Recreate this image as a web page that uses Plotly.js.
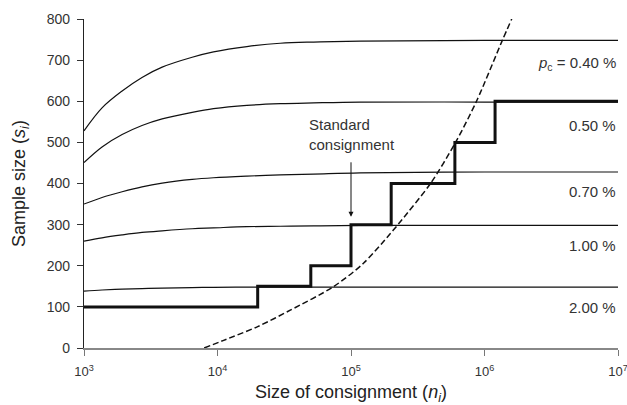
<!DOCTYPE html>
<html>
<head>
<meta charset="utf-8">
<script src="https://cdn.plot.ly/plotly-3.0.1.min.js"></script>
<style>
html,body{margin:0;padding:0;background:#fff;}
#chart{width:627px;height:405px;}
</style>
</head>
<body>
<div id="chart"></div>
<script>
// Consignment sizes (n) at which the curves were read
const nCurve = [1000, 1365, 1930, 2720, 3850, 6460, 9330, 16600, 29500, 52500, 117000, 1000000, 10000000];
// Sample sizes for each p_c curve
const s040 = [528, 584, 625, 658, 683, 707, 720, 733, 741, 744, 746, 748, 748];
const s050 = [451, 489, 519, 541, 557, 573, 582, 590, 594, 596, 598, 598, 598];
const s070 = [350, 366, 380, 392, 401, 410, 414, 418, 421, 423, 426, 428, 428];
const s100 = [260, 268, 275, 281, 285, 290, 292, 295, 296, 297, 298, 298, 298];
const s200 = [138.5, 141, 143, 144.5, 145.5, 147, 147.5, 148, 148, 148, 148, 148, 148];

// Standard consignment step function
const nStep = [1000, 20000, 50000, 100000, 200000, 600000, 1200000, 10000000];
const sStep = [100, 150, 200, 300, 400, 500, 600, 600];

// Dashed curve
const nDash = [7940, 11000, 20000, 35100, 73800, 124000, 198000, 234000, 394000, 607000, 871000, 1360000, 1600000];
const sDash = [0, 18, 52, 92, 149, 206, 279, 307, 400, 500, 600, 748, 800];

const xTickVals = [1e3, 1e4, 1e5, 1e6, 1e7];
const xTickText = ['10<sup>3</sup>', '10<sup>4</sup>', '10<sup>5</sup>', '10<sup>6</sup>', '10<sup>7</sup>'];
const yTickVals = [0, 100, 200, 300, 400, 500, 600, 700, 800];

const curveLabels = ['<i>p</i><sub>c</sub> = 0.40 %', '0.50 %', '0.70 %', '1.00 %', '2.00 %'];
const curveLabelY = [692, 540, 380, 250, 99];

const curveSeries = [s040, s050, s070, s100, s200];
const traces = curveSeries.map(s => ({
  x: nCurve, y: s, mode: 'lines',
  line: {color: '#111', width: 1.2, shape: 'spline', smoothing: 1}
}));
traces.push({x: nDash, y: sDash, mode: 'lines', line: {color: '#111', width: 1.5, dash: '6px,3px', shape: 'spline', smoothing: 0.8}});
traces.push({x: nStep, y: sStep, mode: 'lines', line: {color: '#111', width: 3, shape: 'hv'}});

const FONT = 'Liberation Sans, Arial, Helvetica, sans-serif';
const annotations = curveLabels.map((t, i) => ({
  xref: 'paper', yref: 'y', x: 1, y: curveLabelY[i], xanchor: 'right', yanchor: 'middle',
  text: t, showarrow: false, font: {family: FONT, size: 15, color: '#333'}
}));
annotations.push({
  xref: 'paper', yref: 'y', x: 0.418, y: 518, xanchor: 'left', yanchor: 'middle',
  text: 'Standard<br>consignment', align: 'left', showarrow: false,
  font: {family: FONT, size: 15, color: '#333'}
});
annotations.push({
  xref: 'x', yref: 'y', x: 5, y: 319, text: '', showarrow: true,
  ax: 0, ay: -56, arrowhead: 2, arrowsize: 1, arrowwidth: 1, arrowcolor: '#111'
});

const layout = {
  width: 627, height: 405,
  margin: {l: 84, r: 9, t: 19, b: 57},
  paper_bgcolor: '#fff', plot_bgcolor: '#fff',
  showlegend: false,
  font: {family: FONT, color: '#333'},
  xaxis: {
    type: 'log', range: [3, 7],
    tickvals: xTickVals, ticktext: xTickText,
    ticks: 'outside', ticklen: 6, tickcolor: '#777', tickwidth: 1,
    showline: true, linecolor: '#888', linewidth: 1.5,
    showgrid: false, zeroline: false,
    ticklabelstandoff: 5, ticklabeloverflow: 'allow',
    tickfont: {family: FONT, size: 13, color: '#333'},
    title: {text: 'Size of consignment (<i>n</i><sub><i>i</i></sub>)', font: {family: FONT, size: 18, color: '#222'}, standoff: 8}
  },
  yaxis: {
    range: [0, 800],
    tickvals: yTickVals,
    ticks: 'outside', ticklen: 6, tickcolor: '#333', tickwidth: 1,
    showline: true, linecolor: '#222', linewidth: 1.2,
    showgrid: false, zeroline: false,
    ticklabelstandoff: 4,
    tickfont: {family: FONT, size: 14, color: '#333'},
    title: {text: 'Sample size (<i>s</i><sub><i>i</i></sub>)', font: {family: FONT, size: 18, color: '#222'}, standoff: 16}
  },
  annotations: annotations
};

Plotly.newPlot('chart', traces, layout, {displayModeBar: false, staticPlot: true});
</script>
</body>
</html>
